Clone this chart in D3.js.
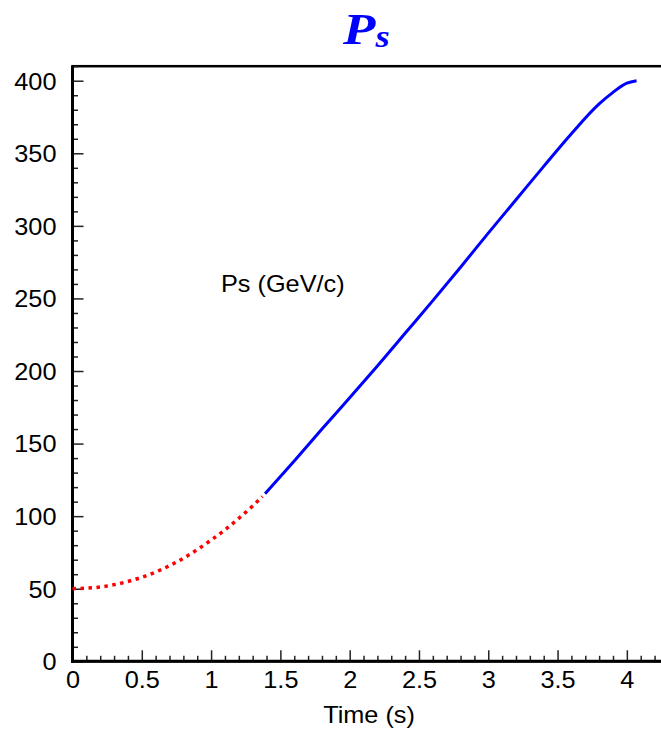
<!DOCTYPE html>
<html>
<head>
<meta charset="utf-8">
<script src="https://cdn.jsdelivr.net/npm/d3@7"></script>
<style>
  html, body { margin: 0; padding: 0; background: #fff; }
  svg { display: block; }
</style>
</head>
<body>
<div id="chart"></div>
<script>
// Synchrotron momentum ramp: parabolic start (dotted) then linear ramp (solid)
const rampStartT = [0, 0.2, 0.4, 0.6, 0.8, 1.0, 1.1, 1.2, 1.3, 1.37];
const rampStartP = [50, 51.2, 55, 61.5, 71, 83.5, 90.5, 98.5, 107, 113.5];

const rampMainT = [1.39, 1.6, 1.8, 2.0, 2.2, 2.4, 2.6, 2.8, 3.0, 3.2, 3.4, 3.6, 3.8, 3.9, 4.0, 4.07];
const rampMainP = [115.5, 138, 160, 181.5, 203.5, 226, 248.5, 271.5, 295, 318, 341, 363.5, 384, 392, 398.3, 400];

const xMajorTicks = [0, 0.5, 1, 1.5, 2, 2.5, 3, 3.5, 4];
const yMajorTicks = [0, 50, 100, 150, 200, 250, 300, 350, 400];

const W = 661, H = 733;
const mLeft = 72.5, mRight = 661.5, mTop = 66.2, mBottom = 661.3;
const labelStretch = 1.1;
const labelSize = 23;
const fontFamily = "'Liberation Sans', Arial, Helvetica, sans-serif";

const svg = d3.select("#chart").append("svg")
  .attr("width", W).attr("height", H);

const x = d3.scaleLinear().domain([0, 4.25]).range([mLeft, mRight]);
const y = d3.scaleLinear().domain([0, 410]).range([mBottom, mTop]);

// Title
const title = svg.append("text")
  .attr("transform", "translate(343,44) scale(1.18,1)")
  .attr("fill", "#0000ff")
  .attr("font-family", "'Liberation Serif', 'Times New Roman', serif")
  .attr("font-weight", "bold")
  .attr("font-style", "italic");
title.append("tspan").attr("font-size", 45).text("P");
title.append("tspan").attr("font-size", 31).attr("dy", 3).attr("dx", 0).text("s");

// Frame
svg.append("rect")
  .attr("x", mLeft).attr("y", mTop)
  .attr("width", mRight - mLeft + 4).attr("height", mBottom - mTop)
  .attr("fill", "none").attr("stroke", "#000").attr("stroke-width", 2.5);

// Minor ticks
const xMinor = d3.range(0, 4.25, 0.1).filter(v => Math.abs(v * 2 - Math.round(v * 2)) > 1e-6);
const yMinor = d3.range(0, 411, 10).filter(v => v % 50 !== 0);

svg.append("g")
  .attr("transform", `translate(0,${mBottom})`)
  .call(d3.axisBottom(x).tickValues(xMinor).tickSize(-5.5).tickFormat(""))
  .call(g => g.select(".domain").remove())
  .call(g => g.selectAll("line").attr("stroke", "#222").attr("stroke-width", 1.5));

svg.append("g")
  .attr("transform", `translate(${mLeft},0)`)
  .call(d3.axisLeft(y).tickValues(yMinor).tickSize(-5.5).tickFormat(""))
  .call(g => g.select(".domain").remove())
  .call(g => g.selectAll("line").attr("stroke", "#222").attr("stroke-width", 1.5));

// Major ticks and labels
const xAxis = svg.append("g")
  .attr("transform", `translate(0,${mBottom})`)
  .call(d3.axisBottom(x).tickValues(xMajorTicks).tickSize(-11)
    .tickFormat(d3.format("")))
  .call(g => g.select(".domain").remove())
  .call(g => g.selectAll("line").attr("stroke", "#222").attr("stroke-width", 1.5));
xAxis.selectAll("text")
  .attr("font-family", fontFamily).attr("font-size", labelSize).attr("fill", "#000")
  .attr("y", 0).attr("dy", null)
  .attr("transform", `translate(0,27) scale(${labelStretch},1)`);

const yAxis = svg.append("g")
  .attr("transform", `translate(${mLeft},0)`)
  .call(d3.axisLeft(y).tickValues(yMajorTicks).tickSize(-11)
    .tickFormat(d3.format("")))
  .call(g => g.select(".domain").remove())
  .call(g => g.selectAll("line").attr("stroke", "#222").attr("stroke-width", 1.5));
yAxis.selectAll("text")
  .attr("font-family", fontFamily).attr("font-size", labelSize).attr("fill", "#000")
  .attr("x", 0).attr("dy", "0.36em")
  .attr("transform", `translate(-16,0) scale(${labelStretch},1)`);

// Axes lines (thick)
svg.append("line")
  .attr("x1", mLeft).attr("x2", mLeft).attr("y1", mTop).attr("y2", mBottom + 1.5)
  .attr("stroke", "#000").attr("stroke-width", 3);
svg.append("line")
  .attr("x1", mLeft - 1.5).attr("x2", W).attr("y1", mBottom).attr("y2", mBottom)
  .attr("stroke", "#000").attr("stroke-width", 3);

// Axis title
svg.append("text")
  .attr("transform", `translate(369,723) scale(${labelStretch},1)`)
  .attr("text-anchor", "middle")
  .attr("font-family", fontFamily).attr("font-size", labelSize)
  .text("Time (s)");

// In-plot label
svg.append("text")
  .attr("transform", `translate(221,292) scale(${labelStretch},1)`)
  .attr("font-family", fontFamily).attr("font-size", labelSize)
  .text("Ps (GeV/c)");

// Curves
const line = d3.line()
  .x(d => x(d[0])).y(d => y(d[1]))
  .curve(d3.curveMonotoneX);

svg.append("path")
  .datum(d3.zip(rampStartT, rampStartP))
  .attr("d", line)
  .attr("fill", "none")
  .attr("stroke", "#ff0000")
  .attr("stroke-width", 3.5)
  .attr("stroke-dasharray", "3.5,4.5");

svg.append("path")
  .datum(d3.zip(rampMainT, rampMainP))
  .attr("d", line)
  .attr("fill", "none")
  .attr("stroke", "#0000ff")
  .attr("stroke-width", 3);
</script>
</body>
</html>
